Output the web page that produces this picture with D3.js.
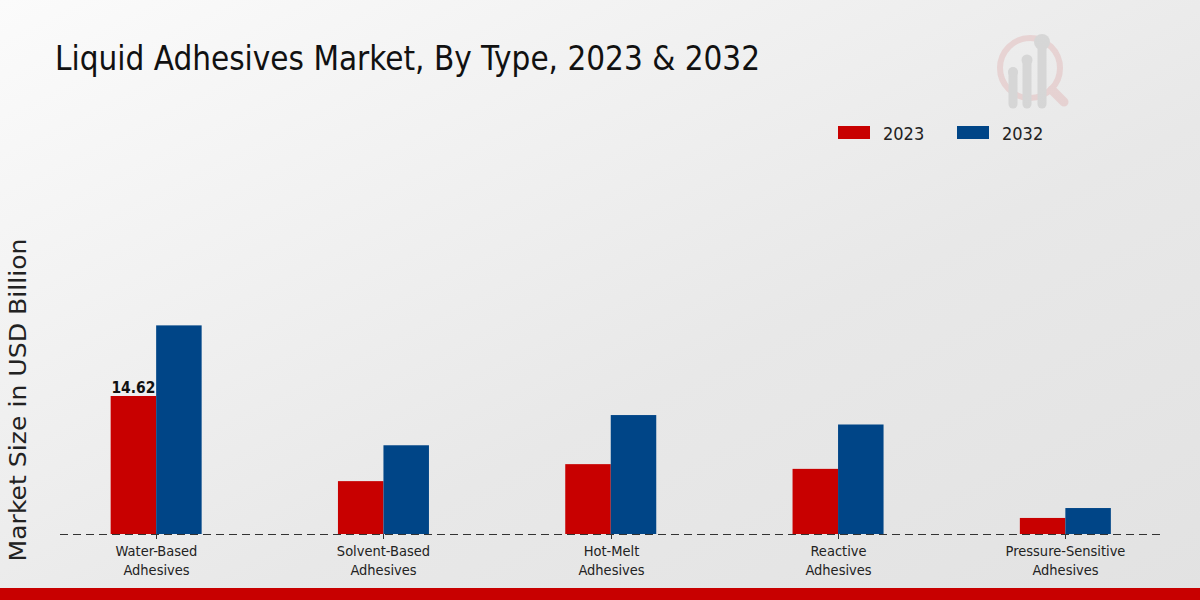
<!DOCTYPE html>
<html><head><meta charset="utf-8">
<script src="https://cdn.jsdelivr.net/npm/d3@7"></script>
<style>body{margin:0;}svg{display:block;font-family:"DejaVu Sans Condensed","DejaVu Sans",sans-serif;font-stretch:condensed;}</style>
</head><body>
<script>
const categories = ["Water-Based\nAdhesives","Solvent-Based\nAdhesives","Hot-Melt\nAdhesives","Reactive\nAdhesives","Pressure-Sensitive\nAdhesives"];
const seriesNames = ["2023","2032"];
const values2023 = [14.62, 5.6, 7.4, 6.9, 1.7];
const values2032 = [22.1, 9.4, 12.6, 11.6, 2.75];
const colors = ["#c80000","#004587"];

const W=1200,H=600;
const svg=d3.select("body").append("svg").attr("width",W).attr("height",H);
const defs=svg.append("defs");
const g=defs.append("linearGradient").attr("id","bg").attr("x1","0").attr("y1","0").attr("x2","1").attr("y2","1");
g.append("stop").attr("offset","0").attr("stop-color","#fbfbfb");
g.append("stop").attr("offset","0.6").attr("stop-color","#e8e8e8");
g.append("stop").attr("offset","1").attr("stop-color","#e2e2e2");
svg.append("rect").attr("width",W).attr("height",H).attr("fill","url(#bg)");
svg.append("rect").attr("x",0).attr("y",588).attr("width",W).attr("height",12).attr("fill","#c80000");

// title
svg.append("text").attr("x",55).attr("y",70).attr("font-size",34).attr("fill","#111")
  .attr("textLength",705).attr("lengthAdjust","spacingAndGlyphs")
  .text("Liquid Adhesives Market, By Type, 2023 & 2032");

// logo
const lg=svg.append("g").attr("opacity",0.25);
lg.append("circle").attr("cx",1030).attr("cy",68).attr("r",30).attr("fill","none").attr("stroke","#d98a8a").attr("stroke-width",6);
lg.append("line").attr("x1",1052).attr("y1",90).attr("x2",1064).attr("y2",102).attr("stroke","#d98a8a").attr("stroke-width",9).attr("stroke-linecap","round");
[[1013,72,104],[1027,62,104],[1042,45,104]].forEach(([x,y1,y2])=>{
  lg.append("line").attr("x1",x).attr("y1",y1).attr("x2",x).attr("y2",y2).attr("stroke","#999").attr("stroke-width",9).attr("stroke-linecap","round");
});
[[1013,72,5],[1027,60,5.5],[1042,42,8]].forEach(([x,y,r])=>lg.append("circle").attr("cx",x).attr("cy",y).attr("r",r).attr("fill","#999"));

// scales
const x=d3.scaleBand().domain(categories).range([42.5,1179]).padding(0);
const xi=d3.scaleBand().domain(seriesNames).range([0,91]);
const y=d3.scaleLinear().domain([0,25]).range([534,298]);

const data=categories.map((c,i)=>({c,vals:[values2023[i],values2032[i]]}));
const grp=svg.append("g").selectAll("g").data(data).enter().append("g")
  .attr("transform",d=>`translate(${x(d.c)+x.bandwidth()/2-45.5},0)`);
grp.selectAll("rect").data(d=>d.vals.map((v,j)=>({v,s:seriesNames[j],j}))).enter().append("rect")
  .attr("x",d=>xi(d.s)).attr("width",xi.bandwidth()).attr("y",d=>y(d.v)).attr("height",d=>y(0)-y(d.v))
  .attr("fill",d=>colors[d.j]);

// value label
svg.append("text").attr("x",x(categories[0])+x.bandwidth()/2-22.75).attr("y",y(values2023[0])-3)
  .attr("text-anchor","middle").attr("font-size",15).attr("font-weight","bold").attr("fill","#111")
  .attr("textLength",44).attr("lengthAdjust","spacingAndGlyphs").text("14.62");

// baseline dashed
svg.append("line").attr("x1",60).attr("x2",1160).attr("y1",534.5).attr("y2",534.5)
  .attr("stroke","#333").attr("stroke-dasharray","8,5").attr("stroke-width",1);

// x axis ticks & labels
const ax=svg.append("g");
categories.forEach(c=>{
  const cx=Math.round(x(c)+x.bandwidth()/2)+0.5;
  ax.append("line").attr("x1",cx).attr("x2",cx).attr("y1",534).attr("y2",539).attr("stroke","#333");
  const t=ax.append("text").attr("x",cx).attr("y",556).attr("text-anchor","middle").attr("font-size",14.5).attr("fill","#222");
  c.split("\n").forEach((ln,k)=>t.append("tspan").attr("x",cx).attr("dy",k?19:0).text(ln));
});

// y label
svg.append("text").attr("transform","translate(26,400) rotate(-90)").attr("text-anchor","middle")
  .style("font-family","'DejaVu Sans',sans-serif").style("font-stretch","normal")
  .attr("font-size",23).attr("fill","#222").attr("textLength",323).attr("lengthAdjust","spacingAndGlyphs")
  .text("Market Size in USD Billion");

// legend
seriesNames.forEach((s,i)=>{
  const lx=838+i*119;
  svg.append("rect").attr("x",lx).attr("y",126).attr("width",32).attr("height",13).attr("fill",colors[i]);
  svg.append("text").attr("x",lx+45).attr("y",140).attr("font-size",18).attr("fill","#222").text(s);
});
</script>
</body></html>
